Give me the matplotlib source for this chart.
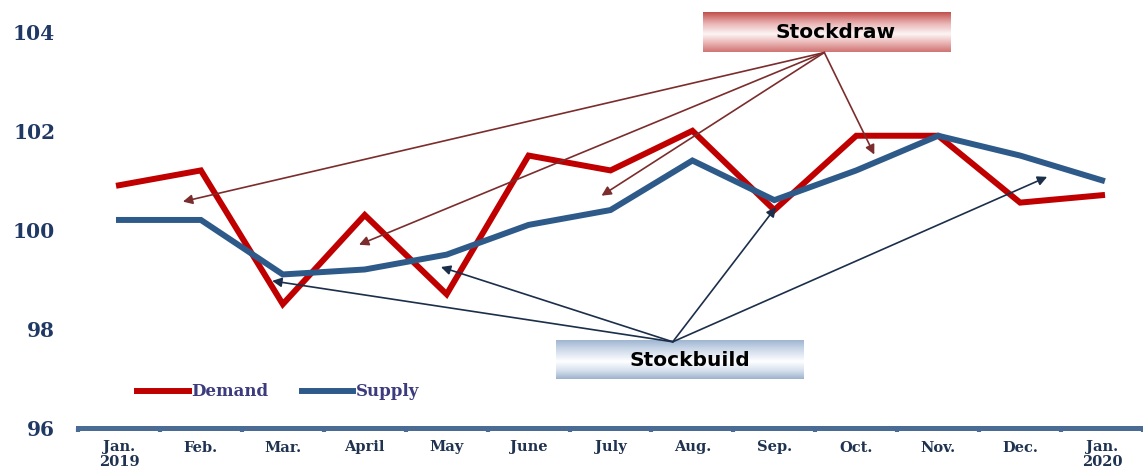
import numpy as np
import matplotlib.pyplot as plt
from matplotlib.colors import to_rgb

months = ['Jan.\n2019', 'Feb.', 'Mar.', 'April', 'May', 'June', 'July',
          'Aug.', 'Sep.', 'Oct.', 'Nov.', 'Dec.', 'Jan.\n2020']
demand = [100.9, 101.2, 98.5, 100.3, 98.7, 101.5, 101.2, 102.0, 100.4, 101.9, 101.9, 100.55, 100.7]
supply = [100.2, 100.2, 99.1, 99.2, 99.5, 100.1, 100.4, 101.4, 100.6, 101.2, 101.9, 101.5, 101.0]
yticks = [96, 98, 100, 102, 104]

# arrow start/end points in data units (x = month index)
draw_origin = (8.61, 103.58)
draw_tips = [(0.78, 100.57), (2.93, 99.70), (5.89, 100.69), (9.22, 101.52)]
build_origin = (6.76, 97.74)
build_tips = [(1.87, 98.97), (3.93, 99.25), (8.02, 100.46), (11.33, 101.07)]

red = '#c00000'
blue = '#2e5a8a'
navy = '#1f3864'
serif = 'DejaVu Serif'

fig = plt.figure(figsize=(11.43, 4.71), dpi=100)
W, H = 1143, 471
ax = fig.add_axes([78 / W, 1 - 428 / H, (1143 - 78) / W, 426 / H])

x = np.arange(len(months))
ax.plot(x, demand, color=red, lw=4.3, solid_joinstyle='miter', label='Demand', zorder=3)
ax.plot(x, supply, color=blue, lw=4.3, solid_joinstyle='miter', label='Supply', zorder=3)


def grad_box(x0, x1, y0, y1, stops):
    # stops: list of (position from top, colour)
    t = np.linspace(0, 1, 80)
    pos = [p for p, _ in stops]
    cols = np.array([to_rgb(c) for _, c in stops])
    img = np.stack([np.interp(t, pos, cols[:, i]) for i in range(3)], axis=1)[:, None, :]
    ax.imshow(img, extent=(x0, x1, y0, y1), aspect='auto', origin='upper', zorder=4,
              interpolation='bilinear')


grad_box(7.13, 10.15, 103.6, 104.4,
         [(0, '#c0504d'), (0.15, '#d98584'), (0.3, '#eab9b8'), (0.55, '#fdf5f5'),
          (0.75, '#ecbcbb'), (1, '#d07473')])
ax.text(8.75, 103.99, 'Stockdraw', ha='center', va='center', fontsize=14.5,
        fontweight='bold', family='DejaVu Sans', zorder=5)
grad_box(5.33, 8.35, 96.99, 97.76,
         [(0, '#9fb5d1'), (0.2, '#c6d4e6'), (0.55, '#ffffff'), (0.8, '#d3deeb'),
          (1, '#9eb2cc')])
ax.text(6.97, 97.37, 'Stockbuild', ha='center', va='center', fontsize=14.5,
        fontweight='bold', family='DejaVu Sans', zorder=5)

for tip in draw_tips:
    ax.annotate('', xy=tip, xytext=draw_origin,
                arrowprops=dict(arrowstyle='-|>', color='#7b2d2d', lw=1.2,
                                mutation_scale=14, shrinkA=0, shrinkB=0), zorder=4)
for tip in build_tips:
    ax.annotate('', xy=tip, xytext=build_origin,
                arrowprops=dict(arrowstyle='-|>', color='#1c2f4a', lw=1.2,
                                mutation_scale=14, shrinkA=0, shrinkB=0), zorder=4)

ax.set_xlim(-0.5, -0.5 + 1065 / 82.2)
ax.set_ylim(96, 104.6)

for s in ['top', 'right', 'left']:
    ax.spines[s].set_visible(False)
ax.spines['bottom'].set_color('#4a6b94')
ax.spines['bottom'].set_linewidth(3.6)

ax.set_yticks(yticks)
ax.set_yticklabels([str(v) for v in yticks], family=serif, fontweight='bold',
                   fontsize=14.5, color=navy)
ax.tick_params(axis='y', length=0, pad=16.5)

ax.set_xticks(x)
ax.set_xticklabels(months, family=serif, fontweight='bold', fontsize=10.5,
                   color='#1f3350', linespacing=1.05, va='top')
ax.tick_params(axis='x', which='major', length=0, pad=9)
ax.set_xticks(np.arange(-0.5, 13, 1), minor=True)
ax.tick_params(axis='x', which='minor', length=3, width=3, color='#4a6b94', direction='out')

leg = ax.legend(loc='center left', bbox_to_anchor=(122 / W, 1 - 392 / H),
                bbox_transform=fig.transFigure, ncol=2, frameon=False,
                handlelength=3.1, handletextpad=0.15, columnspacing=2.0,
                prop=dict(family=serif, weight='bold', size=12))
for t in leg.get_texts():
    t.set_color('#3b3b7e')

fig.savefig('out.png', dpi=100)
